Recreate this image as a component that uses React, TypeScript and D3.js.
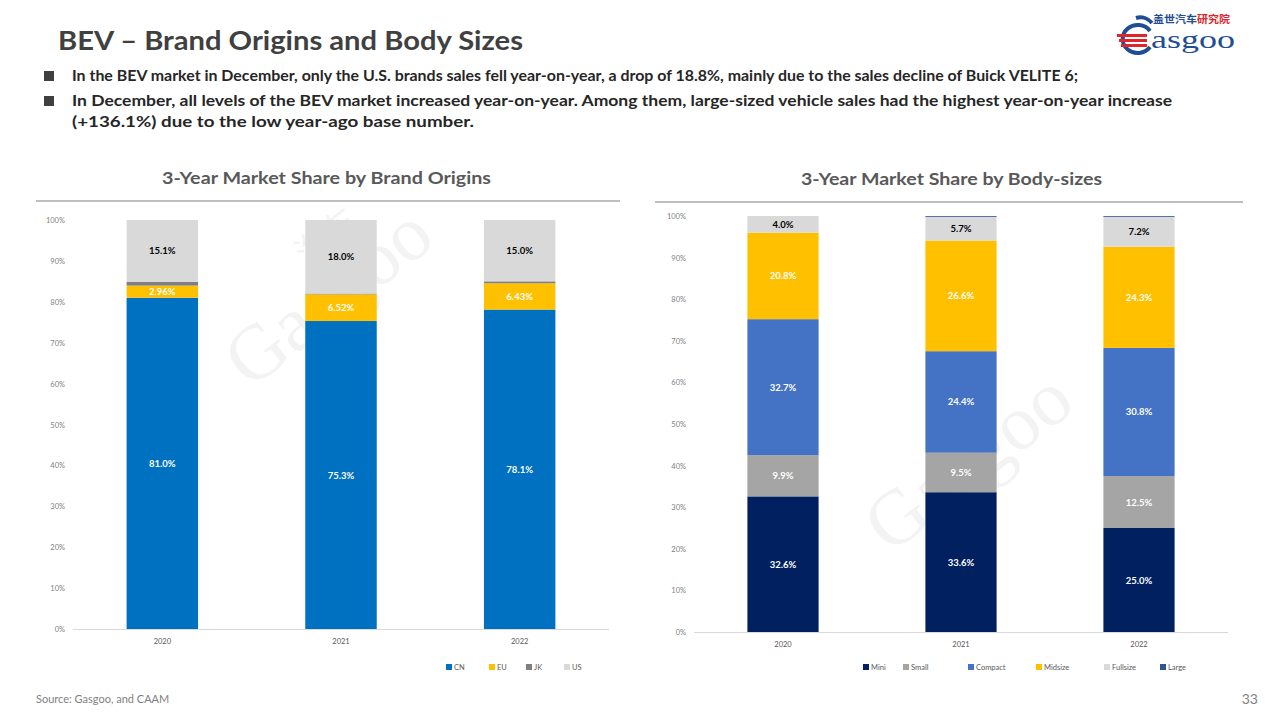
import React from "react";
import * as d3 from "d3";

// ---------- data ----------
const years = ["2020", "2021", "2022"];

const originKeys = ["CN", "EU", "JK", "US"];
const originCN = [81.0, 75.3, 78.1];
const originEU = [2.96, 6.52, 6.43];
const originJK = [0.94, 0.18, 0.47];
const originUS = [15.1, 18.0, 15.0];
const originColors = ["#0070C0", "#FFC000", "#7F7F7F", "#D9D9D9"];
const originLabelColors = ["#ffffff", "#ffffff", null, "#000000"];
const originDecimals = [1, 2, 1, 1];

const sizeKeys = ["Mini", "Small", "Compact", "Midsize", "Fullsize", "Large"];
const sizeMini = [32.6, 33.6, 25.0];
const sizeSmall = [9.9, 9.5, 12.5];
const sizeCompact = [32.7, 24.4, 30.8];
const sizeMidsize = [20.8, 26.6, 24.3];
const sizeFullsize = [4.0, 5.7, 7.2];
const sizeLarge = [0.0, 0.2, 0.2];
const sizeColors = ["#002060", "#A5A5A5", "#4472C4", "#FFC000", "#D9D9D9", "#2F5597"];
const sizeLabelColors = ["#ffffff", "#ffffff", "#ffffff", "#ffffff", "#000000", null];
const sizeDecimals = [1, 1, 1, 1, 1, 1];

const yTicks = [0, 10, 20, 30, 40, 50, 60, 70, 80, 90, 100];

const FONT = "Lato, 'Open Sans', sans-serif";

type ChartProps = {
  keys: string[];
  values: number[][];
  colors: string[];
  labelColors: (string | null)[];
  decimals: number[];
  x0: number;
  x1: number;
  yTop: number;
  yBottom: number;
  tickRight: number;
  xLabelY: number;
  legendY: number;
  legendX: number[];
  title: string;
  titleX: number;
  titleW: number;
  lineX0: number;
  lineX1: number;
  lineY: number;
};

function StackChart(p: ChartProps) {
  const rows = years.map((yr, i) => {
    const r: any = { year: yr };
    p.keys.forEach((k, j) => (r[k] = p.values[j][i]));
    return r;
  });
  const stack = d3.stack<any>().keys(p.keys)(rows);
  const x = d3.scaleBand().domain(years).range([p.x0, p.x1]).paddingInner(0.6).paddingOuter(0.3);
  const y = d3.scaleLinear().domain([0, 100]).range([p.yBottom, p.yTop]);
  const bw = x.bandwidth();
  return (
    <g>
      <text x={p.titleX} y={p.lineY - 17} fontFamily={FONT} fontWeight="bold" fontSize={17.5}
        fill="#595959" textLength={p.titleW} lengthAdjust="spacingAndGlyphs">{p.title}</text>
      <line x1={p.lineX0} x2={p.lineX1} y1={p.lineY} y2={p.lineY} stroke="#7F7F7F" strokeWidth={1} />
      {yTicks.map((t) => (
        <text key={t} x={p.tickRight} y={y(t) + 3} textAnchor="end" fontFamily={FONT} fontSize={7.5} fill="#7F7F7F">
          {t}%
        </text>
      ))}
      {stack.map((s, j) => (
        <g key={p.keys[j]}>
          {s.map((d, i) => (
            <rect key={i} x={x(years[i])} y={y(d[1])} width={bw} height={Math.max(0, y(d[0]) - y(d[1]))}
              fill={p.colors[j]} />
          ))}
        </g>
      ))}
      <line x1={p.x0} x2={p.x1} y1={p.yBottom + 0.5} y2={p.yBottom + 0.5} stroke="#D9D9D9" strokeWidth={1} />
      {stack.map((s, j) =>
        p.labelColors[j]
          ? s.map((d, i) => (
              <text key={p.keys[j] + i} x={(x(years[i]) as number) + bw / 2} y={(y(d[0]) + y(d[1])) / 2 + 3.5}
                textAnchor="middle" fontFamily={FONT} fontWeight="bold" fontSize={9.5} fill={p.labelColors[j] as string}>
                {p.values[j][i].toFixed(p.decimals[j])}%
              </text>
            ))
          : null
      )}
      {years.map((yr) => (
        <text key={yr} x={(x(yr) as number) + bw / 2} y={p.xLabelY} textAnchor="middle" fontFamily={FONT}
          fontSize={7.5} fill="#595959">{yr}</text>
      ))}
      {p.keys.map((k, j) => (
        <g key={k}>
          <rect x={p.legendX[j]} y={p.legendY - 3} width={6} height={6} fill={p.colors[j]} />
          <text x={p.legendX[j] + 8} y={p.legendY + 3} fontFamily={FONT} fontSize={7.5} fill="#595959">{k}</text>
        </g>
      ))}
    </g>
  );
}

function Watermark({ x, y }: { x: number; y: number }) {
  return (
    <g transform={`translate(${x},${y}) rotate(-38)`} opacity={0.045}>
      <text x={0} y={0} fontFamily="'Liberation Serif', serif" fontSize={78} fill="#000">Gasgoo</text>
      <text x={120} y={-62} fontFamily="'Noto Sans CJK SC', sans-serif" fontSize={34} fill="#000">汽车</text>
    </g>
  );
}

export default function App() {
  return (
    <svg width={1280} height={720} style={{ position: "absolute", left: 0, top: 0, background: "#fff" }}>
      <rect x={0} y={0} width={1280} height={720} fill="#ffffff" />
      {/* title */}
      <text x={58} y={50} fontFamily={FONT} fontWeight="bold" fontSize={27} fill="#404040"
        textLength={465} lengthAdjust="spacingAndGlyphs">BEV – Brand Origins and Body Sizes</text>
      {/* bullets */}
      <rect x={44} y={71} width={10} height={10} fill="#404040" />
      <rect x={44} y={96} width={10} height={10} fill="#404040" />
      <text x={72} y={81} fontFamily={FONT} fontWeight="bold" fontSize={15.5} fill="#262626" textLength={1006}
        lengthAdjust="spacingAndGlyphs">In the BEV market in December, only the U.S. brands sales fell year-on-year, a drop of 18.8%, mainly due to the sales decline of Buick VELITE 6;</text>
      <text x={72} y={106} fontFamily={FONT} fontWeight="bold" fontSize={15.5} fill="#262626" textLength={1100}
        lengthAdjust="spacingAndGlyphs">In December, all levels of the BEV market increased year-on-year. Among them, large-sized vehicle sales had the highest year-on-year increase</text>
      <text x={72} y={127} fontFamily={FONT} fontWeight="bold" fontSize={15.5} fill="#262626" textLength={402}
        lengthAdjust="spacingAndGlyphs">(+136.1%) due to the low year-ago base number.</text>

      {/* logo */}
      <g>
        <text x={1153} y={23} fontFamily="'Noto Sans CJK SC', sans-serif" fontWeight="bold" fontSize={10}
          textLength={77} lengthAdjust="spacingAndGlyphs">
          <tspan fill="#1F4E96">盖世汽车</tspan>
          <tspan fill="#E0262B">研究院</tspan>
        </text>
        <path d="M1150,31 A15,14 0 1,0 1150,47" fill="none" stroke="#1F4E96" strokeWidth={4} />
        <path d="M1136,18 A15,15 0 0,1 1152,23" fill="none" stroke="#1F4E96" strokeWidth={4} />
        <rect x={1117} y={34} width={30} height={3} fill="#E0262B" />
        <rect x={1119} y={39} width={28} height={3} fill="#E0262B" />
        <rect x={1121} y={44} width={26} height={3} fill="#E0262B" />
        <text x={1151} y={48} fontFamily="'Liberation Serif', serif" fontSize={26} fill="#1F4E96"
          textLength={84} lengthAdjust="spacingAndGlyphs">asgoo</text>
      </g>

      <Watermark x={250} y={390} />
      <Watermark x={890} y={555} />

      <StackChart
        keys={originKeys}
        values={[originCN, originEU, originJK, originUS]}
        colors={originColors}
        labelColors={originLabelColors}
        decimals={originDecimals}
        x0={73} x1={609} yTop={220} yBottom={629} tickRight={65}
        xLabelY={644} legendY={667} legendX={[446, 489, 526, 564]}
        title="3-Year Market Share by Brand Origins" titleX={162} titleW={329}
        lineX0={36} lineX1={620} lineY={201}
      />
      <StackChart
        keys={sizeKeys}
        values={[sizeMini, sizeSmall, sizeCompact, sizeMidsize, sizeFullsize, sizeLarge]}
        colors={sizeColors}
        labelColors={sizeLabelColors}
        decimals={sizeDecimals}
        x0={694} x1={1228} yTop={216} yBottom={632} tickRight={686}
        xLabelY={647} legendY={667} legendX={[863, 903, 968, 1036, 1104, 1160]}
        title="3-Year Market Share by Body-sizes" titleX={801} titleW={301}
        lineX0={655} lineX1={1243} lineY={202}
      />

      <text x={36} y={703} fontFamily={FONT} fontSize={11} fill="#7F7F7F">Source: Gasgoo, and CAAM</text>
      <text x={1258} y={704} textAnchor="end" fontFamily={FONT} fontSize={14} fill="#7F7F7F">33</text>
    </svg>
  );
}
